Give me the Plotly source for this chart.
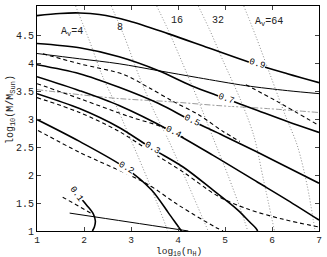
import plotly.graph_objects as go

# ---- data ----
# solid contours of fraction value
c09_x = [1, 1.484, 1.905, 2.326, 2.958, 3.8, 4.642, 5.547, 6.326, 7]
c09_y = [4.863, 4.902, 4.911, 4.884, 4.768, 4.536, 4.286, 4.018, 3.821, 3.661]
c07_x = [1, 1.905, 2.747, 3.589, 4.284, 4.958, 5.695, 6.326, 7]
c07_y = [4.363, 4.286, 4.125, 3.875, 3.607, 3.393, 3.161, 2.964, 2.768]
c05_x = [1, 1.905, 2.747, 3.589, 4.284, 4.958, 5.695, 6.326, 7]
c05_y = [3.982, 3.821, 3.577, 3.286, 2.982, 2.714, 2.411, 2.143, 1.857]
c04_x = [1, 1.905, 2.747, 3.863, 4.747, 5.695, 6.326, 7]
c04_y = [3.768, 3.518, 3.25, 2.786, 2.357, 1.875, 1.554, 1.196]
c03_x = [1, 1.905, 2.747, 3.442, 4.116, 4.747, 5.274, 5.526, 5.653, 5.695]
c03_y = [3.464, 3.196, 2.857, 2.482, 2.143, 1.732, 1.375, 1.161, 1.054, 1.0]
c02_x = [1, 1.905, 2.895, 3.442, 3.8, 4.011, 4.074]
c02_y = [3.0, 2.607, 2.125, 1.732, 1.321, 1.071, 1.0]
c01_x = [1.737, 1.905, 2.074, 2.2, 2.242, 2.221, 2.179]
c01_y = [1.714, 1.607, 1.446, 1.304, 1.179, 1.071, 1.0]

# thin boundary lines
thin_up_x = [1, 1.905, 2.747, 3.589, 4.432, 5.442, 6.326, 7]
thin_up_y = [4.184, 4.089, 4.0, 3.875, 3.75, 3.607, 3.518, 3.464]
thin_lo_x = [1.695, 2.958, 4.221]
thin_lo_y = [1.321, 1.161, 1.0]

# dash-dot line
dd_x = [1, 1.905, 2.747, 3.8, 4.853, 5.905, 7]
dd_y = [3.536, 3.446, 3.375, 3.321, 3.25, 3.196, 3.125]

# dashed contours
dA_x = [1.126, 1.905, 2.853, 3.379, 3.905, 4.432, 4.958, 5.316]
dA_y = [4.179, 4.0, 3.804, 3.571, 3.321, 3.089, 2.786, 2.607]
dB_x = [5.442, 6.116, 7]
dB_y = [3.625, 3.321, 2.893]
dC_x = [1, 1.905, 2.958, 3.695, 4.116]
dC_y = [3.643, 3.375, 3.054, 2.857, 2.679]
dD_x = [1, 1.905, 2.747, 3.379, 4.116, 4.853, 5.484, 6.221, 7]
dD_y = [3.393, 3.125, 2.786, 2.446, 2.054, 1.625, 1.393, 1.214, 1.071]
dE_x = [1.021, 1.905, 3.316, 4.011, 4.789, 4.958]
dE_y = [2.804, 2.411, 1.857, 1.464, 1.071, 1.0]
dF_x = [1.547, 2.179]
dF_y = [1.607, 1.304]

# dotted A_v lines
av4_x = [1.821, 2.116, 2.389, 2.684, 2.958, 3.379, 3.758, 3.779]
av4_y = [5.036, 4.411, 3.786, 3.25, 2.714, 1.875, 1.054, 1.0]
av8_x = [2.579, 2.853, 3.168, 3.484, 3.8, 4.221, 4.642]
av8_y = [5.036, 4.5, 3.786, 3.161, 2.625, 1.821, 1.0]
av16_x = [3.547, 3.8, 4.074, 4.432, 4.768, 5.063, 5.337, 5.484]
av16_y = [5.036, 4.589, 4.054, 3.339, 2.625, 2.0, 1.375, 1.0]
av32_x = [4.432, 4.684, 4.958, 5.337, 5.611, 5.821, 6.053]
av32_y = [5.036, 4.589, 4.054, 3.339, 2.714, 1.911, 1.0]
av64_x = [5.4, 5.653, 5.968, 6.284, 6.537, 6.747, 6.916]
av64_y = [5.036, 4.5, 3.786, 3.071, 2.536, 1.821, 1.0]

# labels
contour_labels = ["0.9", "0.7", "0.5", "0.4", "0.3", "0.2", "0.1"]
contour_lab_x = [5.68, 5.02, 4.305, 3.884, 3.442, 2.895, 1.83]
contour_lab_y = [3.99, 3.37, 2.982, 2.768, 2.482, 2.125, 1.66]
contour_lab_ang = [17, 20, 27, 28, 32, 30, 55]

av_labels = ["A<sub>v</sub>=4", "8", "16", "32", "A<sub>v</sub>=64"]
av_lab_x = [1.737, 2.768, 3.968, 4.853, 5.926]
av_lab_y = [4.57, 4.643, 4.768, 4.768, 4.75]

xticks = [1, 2, 3, 4, 5, 6, 7]
yticks = [1, 1.5, 2, 2.5, 3, 3.5, 4, 4.5]

FONT = "Liberation Mono, Courier New, monospace"

fig = go.Figure()

def add(x, y, color="black", width=1.6, dash="solid", shape="spline"):
    fig.add_trace(go.Scatter(x=x, y=y, mode="lines",
                             line=dict(color=color, width=width, dash=dash,
                                       shape=shape, smoothing=0.9),
                             hoverinfo="skip", showlegend=False))

# dotted A_v lines
for xs, ys in [(av4_x, av4_y), (av8_x, av8_y), (av16_x, av16_y),
               (av32_x, av32_y), (av64_x, av64_y)]:
    add(xs, ys, color="#8a8a8a", width=1, dash="1px,2px")

# dash-dot
add(dd_x, dd_y, color="#9a9a9a", width=1, dash="6px,2px,2px,2px")

# thin lines
add(thin_up_x, thin_up_y, width=1)
add(thin_lo_x, thin_lo_y, width=1)

# dashed
for xs, ys in [(dA_x, dA_y), (dB_x, dB_y), (dC_x, dC_y), (dD_x, dD_y),
               (dE_x, dE_y), (dF_x, dF_y)]:
    add(xs, ys, width=1.1, dash="4px,3px")

# solid contours
for xs, ys in [(c09_x, c09_y), (c07_x, c07_y), (c05_x, c05_y), (c04_x, c04_y),
               (c03_x, c03_y), (c02_x, c02_y), (c01_x, c01_y)]:
    add(xs, ys, width=1.6)

annotations = []
for t, x, y, a in zip(contour_labels, contour_lab_x, contour_lab_y, contour_lab_ang):
    annotations.append(dict(x=x, y=y, xref="x", yref="y", text=t, showarrow=False,
                            textangle=a, font=dict(family=FONT, size=9, color="#000000"),
                            bgcolor="white", borderpad=0))
for t, x, y in zip(av_labels, av_lab_x, av_lab_y):
    annotations.append(dict(x=x, y=y, xref="x", yref="y", text=t, showarrow=False,
                            font=dict(family=FONT, size=10, color="#222")))

annotations.append(dict(x=0.502, y=-0.093, xref="paper", yref="paper",
                        text="log<sub>10</sub>(n<sub>H</sub>)", showarrow=False,
                        yanchor="middle", font=dict(family=FONT, size=9.5, color="#222")))
annotations.append(dict(x=-0.09, y=0.54, xref="paper", yref="paper",
                        text="log<sub>10</sub>(M/M<sub>Sun</sub>)", showarrow=False,
                        textangle=-90, xanchor="center", yanchor="middle",
                        font=dict(family=FONT, size=10, color="#222")))

fig.update_layout(
    width=327, height=257,
    margin=dict(l=37, r=5, t=5, b=26),
    plot_bgcolor="white", paper_bgcolor="white",
    annotations=annotations,
    xaxis=dict(range=[1, 7], tickvals=xticks, ticks="inside", ticklen=4,
               showline=True, linecolor="black", linewidth=1, mirror="ticks",
               showgrid=False, zeroline=False,
               tickfont=dict(family=FONT, size=9.5, color="#222")),
    yaxis=dict(range=[1, 5.036], tickvals=yticks, ticks="inside", ticklen=4,
               showline=True, linecolor="black", linewidth=1, mirror="ticks",
               showgrid=False, zeroline=False,
               tickfont=dict(family=FONT, size=10, color="#222")),
)

fig.write_html("out.html", config={"displayModeBar": False},
               post_script="document.body.style.margin='0';document.body.style.overflow='hidden';")
